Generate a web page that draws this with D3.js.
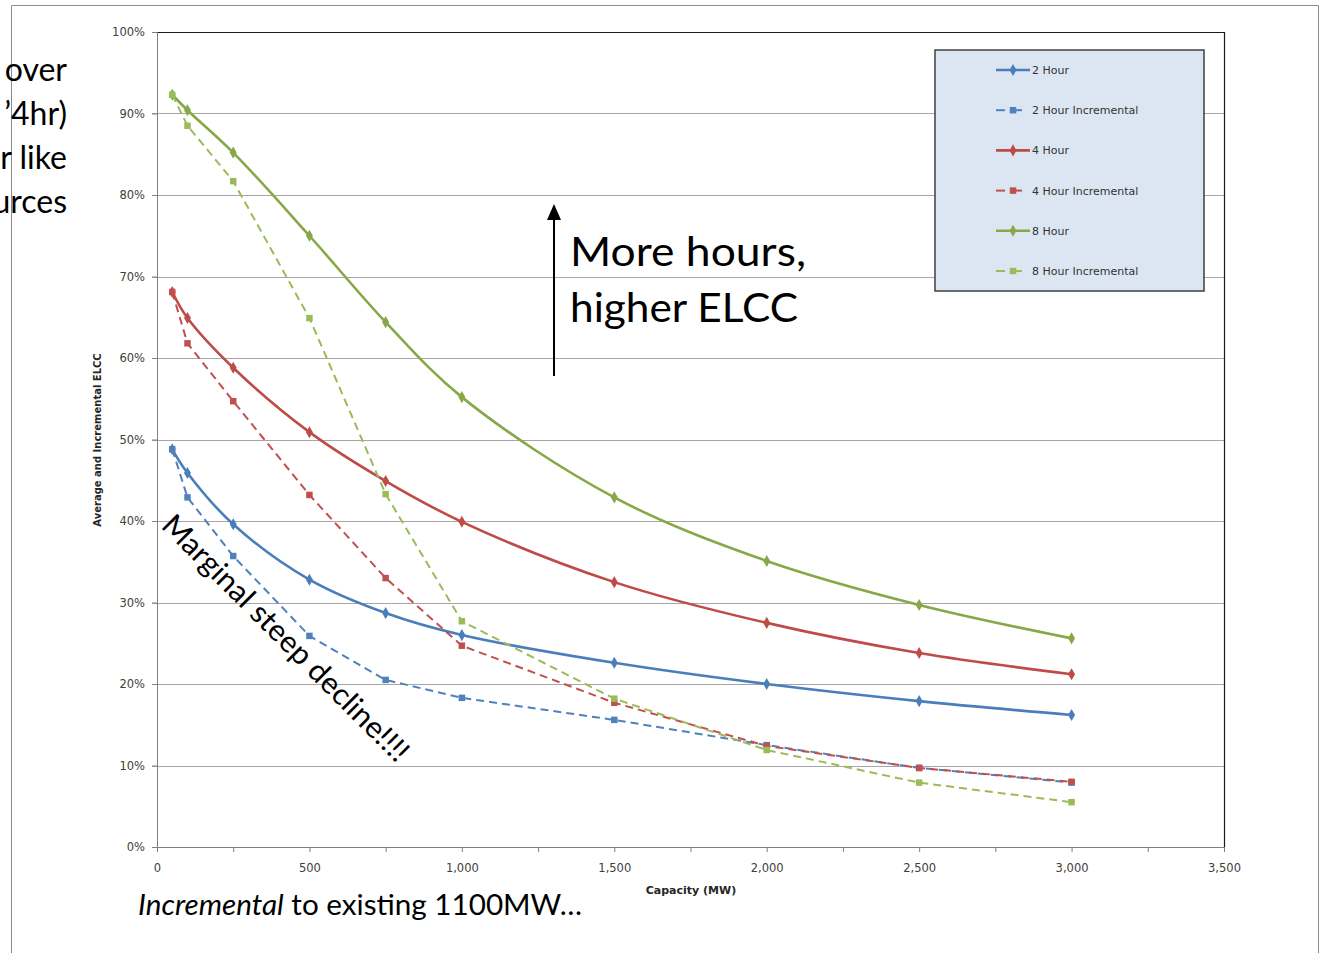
<!DOCTYPE html>
<html>
<head>
<meta charset="utf-8">
<script src="https://cdn.jsdelivr.net/npm/d3@7"></script>
<style>
  body { margin: 0; background: #fff; overflow: hidden; }
  svg { display: block; }
</style>
</head>
<body>
<svg id="chart" width="1322" height="953"></svg>
<script>
// capacity points (MW)
const capacity = [50, 100, 250, 500, 750, 1000, 1500, 2000, 2500, 3000];
// ELCC in percent
const hour2 = [48.8, 45.9, 39.6, 32.8, 28.7, 26.0, 22.6, 20.0, 17.9, 16.2];
const hour2Inc = [48.8, 42.9, 35.7, 25.9, 20.5, 18.3, 15.6, 12.5, 9.7, 7.9];
const hour4 = [68.1, 64.9, 58.8, 50.9, 44.9, 39.9, 32.5, 27.5, 23.8, 21.2];
const hour4Inc = [68.1, 61.8, 54.7, 43.2, 33.0, 24.7, 17.7, 12.4, 9.7, 8.0];
const hour8 = [92.3, 90.4, 85.2, 75.0, 64.4, 55.2, 42.9, 35.1, 29.7, 25.6];
const hour8Inc = [92.3, 88.5, 81.7, 64.9, 43.3, 27.7, 18.2, 11.9, 7.9, 5.5];

const seriesNames = ["2 Hour", "2 Hour Incremental", "4 Hour", "4 Hour Incremental", "8 Hour", "8 Hour Incremental"];
const seriesValues = [hour2, hour2Inc, hour4, hour4Inc, hour8, hour8Inc];
const yTicks = [0, 10, 20, 30, 40, 50, 60, 70, 80, 90, 100];
const xTicks = [0, 500, 1000, 1500, 2000, 2500, 3000, 3500];
const xMinorTicks = d3.range(0, 3501, 250);

const colors = ["#4A7EBB", "#4F81BD", "#BE4B48", "#C0504D", "#86A847", "#9BBB59"];

const svg = d3.select("#chart");

// slide frame
svg.append("path")
  .attr("d", "M11.5,953 V5.5 H1318.5 V953")
  .attr("fill", "none").attr("stroke", "#8c8c8c").attr("stroke-width", 1);

// left side text fragments (cut off in the slide)
const leftText = [["over", 81], ["’4hr)", 125], ["r like", 169], ["urces", 213]];
svg.selectAll(".lefttxt").data(leftText).join("text")
  .attr("x", 67).attr("y", d => d[1])
  .attr("text-anchor", "end")
  .style("font-family", "Lato, 'Open Sans', sans-serif")
  .style("font-size", "32px").attr("fill", "#000")
  .text(d => d[0]);

let margin = {top: 32, right: 98, bottom: 106, left: 157}, w = 1322 - margin.left - margin.right, h = 953 - margin.top - margin.bottom;

const g = svg.append("g").attr("transform", `translate(${margin.left}, ${margin.top})`);

const x_scale = d3.scaleLinear().domain([0, 3500]).range([0, w]);
const y_scale = d3.scaleLinear().domain([0, 100]).range([h, 0]);

// gridlines
g.selectAll(".grid").data(yTicks.slice(1)).join("line")
  .attr("x1", -5).attr("x2", w)
  .attr("y1", d => Math.round(y_scale(d)) + 0.5).attr("y2", d => Math.round(y_scale(d)) + 0.5)
  .attr("stroke", "#a6a6a6").attr("stroke-width", 1.2);

// plot border top/right
g.append("path").attr("d", `M0,0.5 H${w}.5 V${h}`)
  .attr("fill", "none").attr("stroke", "#1a1a1a").attr("stroke-width", 1.2);

// y axis
const yAxis = g.append("g")
  .call(d3.axisLeft(y_scale).tickValues(yTicks).tickSize(5).tickPadding(7).tickFormat(d => d + "%"));
yAxis.select(".domain").attr("stroke", "#808080");
yAxis.selectAll(".tick line").attr("stroke", "#808080");
yAxis.selectAll("text").style("font-family", "'DejaVu Sans', sans-serif").style("font-size", "11.5px").attr("fill", "#404040");

// x axis
const xAxis = g.append("g").attr("transform", `translate(0, ${h})`)
  .call(d3.axisBottom(x_scale).tickValues(xMinorTicks).tickSize(5).tickPadding(12)
    .tickFormat(d => xTicks.includes(d) ? d3.format(",")(d) : ""));
xAxis.select(".domain").attr("stroke", "#808080").attr("d", `M0,0.5H${w}`);
xAxis.selectAll(".tick line").attr("stroke", "#808080");
xAxis.selectAll("text").style("font-family", "'DejaVu Sans', sans-serif").style("font-size", "11.5px").attr("fill", "#404040");

// axis titles
svg.append("text").attr("x", 691).attr("y", 894).attr("text-anchor", "middle")
  .style("font-family", "'DejaVu Sans', sans-serif").style("font-size", "11px").style("font-weight", "bold")
  .attr("fill", "#262626").text("Capacity (MW)");
svg.append("text").attr("transform", "translate(101, 440) rotate(-90)").attr("text-anchor", "middle")
  .style("font-family", "'DejaVu Sans', sans-serif").style("font-size", "10px").style("font-weight", "bold")
  .attr("fill", "#262626").text("Average and Incremental ELCC");

// lines
const solidLine = d3.line().x(d => x_scale(d[0])).y(d => y_scale(d[1])).curve(d3.curveCatmullRom.alpha(0.5));
const dashLine = d3.line().x(d => x_scale(d[0])).y(d => y_scale(d[1]));

const diamond = d3.symbol().type(d3.symbolDiamond).size(42);
const square = d3.symbol().type(d3.symbolSquare).size(42);

seriesValues.forEach((vals, i) => {
  const pts = capacity.map((c, j) => [c, vals[j]]);
  const inc = i % 2 === 1;
  g.append("path").datum(pts)
    .attr("d", inc ? dashLine : solidLine)
    .attr("fill", "none").attr("stroke", colors[i])
    .attr("stroke-width", inc ? 2 : 2.6)
    .attr("stroke-dasharray", inc ? "8,5" : null)
    .attr("stroke-linejoin", "round");
  g.selectAll(".m" + i).data(pts).join("path")
    .attr("transform", d => `translate(${x_scale(d[0])}, ${y_scale(d[1])})`)
    .attr("d", inc ? square : diamond)
    .attr("fill", colors[i]);
});

// legend
const legend = svg.append("g");
legend.append("rect").attr("x", 935).attr("y", 50).attr("width", 269).attr("height", 241)
  .attr("fill", "#dce6f2").attr("stroke", "#3f3f3f").attr("stroke-width", 1.5);
seriesNames.forEach((name, i) => {
  const yy = 70 + i * 40.2;
  const inc = i % 2 === 1;
  if (inc) {
    legend.append("line").attr("x1", 996).attr("x2", 1005).attr("y1", yy).attr("y2", yy)
      .attr("stroke", colors[i]).attr("stroke-width", 2);
    legend.append("line").attr("x1", 1016).attr("x2", 1022).attr("y1", yy).attr("y2", yy)
      .attr("stroke", colors[i]).attr("stroke-width", 2);
    legend.append("path").attr("transform", `translate(1013, ${yy})`).attr("d", square).attr("fill", colors[i]);
  } else {
    legend.append("line").attr("x1", 996).attr("x2", 1030).attr("y1", yy).attr("y2", yy)
      .attr("stroke", colors[i]).attr("stroke-width", 2.6);
    legend.append("path").attr("transform", `translate(1013, ${yy})`).attr("d", diamond).attr("fill", colors[i]);
  }
  legend.append("text").attr("x", 1032).attr("y", yy + 4)
    .style("font-family", "'DejaVu Sans', sans-serif").style("font-size", "11px").attr("fill", "#333")
    .text(name);
});

// annotations
svg.append("defs").append("marker").attr("id", "arrow")
  .attr("viewBox", "0 0 16 14").attr("refX", 2).attr("refY", 7)
  .attr("markerWidth", 16).attr("markerHeight", 14).attr("markerUnits", "userSpaceOnUse")
  .attr("orient", "auto")
  .append("path").attr("d", "M0,0 L16,7 L0,14 Z").attr("fill", "#000");
svg.append("line").attr("x1", 554).attr("x2", 554).attr("y1", 376).attr("y2", 218)
  .attr("stroke", "#000").attr("stroke-width", 2).attr("marker-end", "url(#arrow)");

const bigFont = "Lato, 'Open Sans', sans-serif";
svg.append("text").attr("x", 570).attr("y", 266)
  .style("font-family", bigFont).style("font-size", "40px").attr("fill", "#000")
  .attr("textLength", 236).attr("lengthAdjust", "spacingAndGlyphs")
  .text("More hours,");
svg.append("text").attr("x", 570).attr("y", 322)
  .style("font-family", bigFont).style("font-size", "40px").attr("fill", "#000")
  .attr("textLength", 228).attr("lengthAdjust", "spacingAndGlyphs")
  .text("higher ELCC");

svg.append("text").attr("transform", "translate(160, 527) rotate(45)")
  .style("font-family", bigFont).style("font-size", "30px").attr("fill", "#000")
  .attr("textLength", 335).attr("lengthAdjust", "spacingAndGlyphs")
  .text("Marginal steep decline!!!!");

const bottom = svg.append("text").attr("x", 138).attr("y", 915)
  .style("font-family", bigFont).style("font-size", "29px").attr("fill", "#000")
  .attr("textLength", 444).attr("lengthAdjust", "spacingAndGlyphs");
bottom.append("tspan").style("font-style", "italic").text("Incremental");
bottom.append("tspan").text(" to existing 1100MW…");
</script>
</body>
</html>
